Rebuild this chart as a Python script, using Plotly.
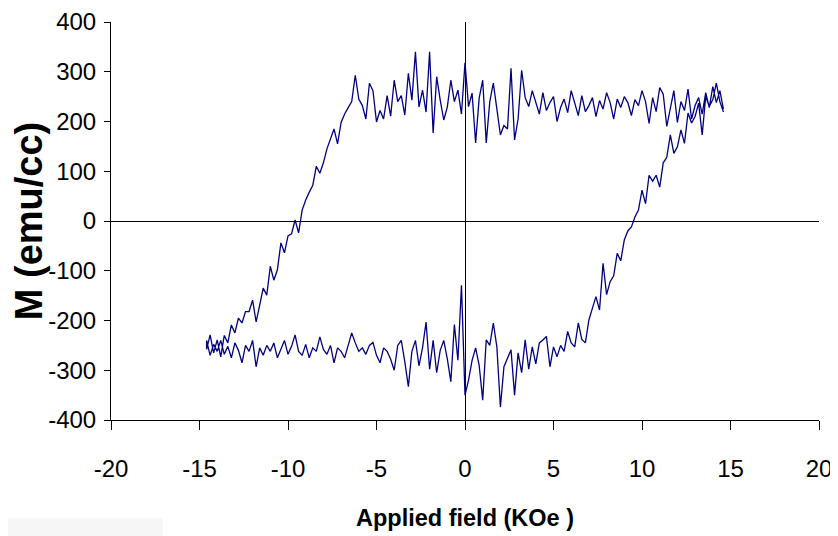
import plotly.graph_objects as go

# Descending-field branch (upper branch), KOe
field_down = [14.6, 14.4, 14.2, 14.0, 13.8, 13.6, 13.4, 13.2, 13.0, 12.8,
              12.6, 12.4, 12.2, 12.0, 11.8, 11.6, 11.4, 11.2, 11.0, 10.8,
              10.6, 10.4, 10.2, 10.0, 9.8, 9.6, 9.4, 9.2, 9.0, 8.8,
              8.6, 8.4, 8.2, 8.0, 7.8, 7.6, 7.4, 7.2, 7.0, 6.8,
              6.6, 6.4, 6.2, 6.0, 5.8, 5.6, 5.4, 5.2, 5.0, 4.8,
              4.6, 4.4, 4.2, 4.0, 3.8, 3.6, 3.4, 3.2, 3.0, 2.8,
              2.6, 2.4, 2.2, 2.0, 1.8, 1.6, 1.4, 1.2, 1.0, 0.8,
              0.6, 0.4, 0.2, 0.0, -0.2, -0.4, -0.6, -0.8, -1.0, -1.2,
              -1.4, -1.6, -1.8, -2.0, -2.2, -2.4, -2.6, -2.8, -3.0, -3.2,
              -3.4, -3.6, -3.8, -4.0, -4.2, -4.4, -4.6, -4.8, -5.0, -5.2,
              -5.4, -5.6, -5.8, -6.0, -6.2, -6.4, -6.6, -6.8, -7.0, -7.2,
              -7.4, -7.6, -7.8, -8.0, -8.2, -8.4, -8.6, -8.8, -9.0, -9.2,
              -9.4, -9.6, -9.8, -10.0, -10.2, -10.4, -10.6, -10.8, -11.0, -11.2,
              -11.4, -11.6, -11.8, -12.0, -12.2, -12.4, -12.6, -12.8, -13.0, -13.2,
              -13.4, -13.6, -13.8, -14.0, -14.2, -14.4, -14.6]
m_down = [225, 262, 238, 270, 228, 258, 215, 248, 232, 205,
          265, 222, 240, 198, 262, 228, 190, 255, 268, 220,
          248, 196, 240, 262, 232, 244, 212, 238, 250, 228,
          245, 205, 238, 258, 225, 242, 210, 248, 232, 220,
          252, 212, 240, 262, 218, 245, 228, 200, 250, 238,
          222, 258, 215, 240, 262, 230, 248, 303, 205, 163,
          307, 185, 192, 173, 225, 277, 240, 157, 283, 247,
          157, 257, 230, 318, 215, 263, 240, 283, 229, 203,
          243, 290, 177, 340, 219, 263, 229, 340, 243, 297,
          213, 252, 240, 283, 211, 252, 205, 222, 199, 262,
          277, 205, 232, 245, 293, 240, 228, 215, 198, 155,
          185, 167, 145, 117, 96, 110, 72, 58, 42, 22,
          -24, 2, -26, -30, -64, -44, -98, -119, -91, -149,
          -135, -169, -203, -159, -182, -182, -205, -195, -225, -209,
          -245, -230, -273, -239, -265, -229, -258]

# Ascending-field branch (lower branch), KOe
field_up = [-14.6, -14.4, -14.2, -14.0, -13.8, -13.6, -13.4, -13.2, -13.0, -12.8,
            -12.6, -12.4, -12.2, -12.0, -11.8, -11.6, -11.4, -11.2, -11.0, -10.8,
            -10.6, -10.4, -10.2, -10.0, -9.8, -9.6, -9.4, -9.2, -9.0, -8.8,
            -8.6, -8.4, -8.2, -8.0, -7.8, -7.6, -7.4, -7.2, -7.0, -6.8,
            -6.6, -6.4, -6.2, -6.0, -5.8, -5.6, -5.4, -5.2, -5.0, -4.8,
            -4.6, -4.4, -4.2, -4.0, -3.8, -3.6, -3.4, -3.2, -3.0, -2.8,
            -2.6, -2.4, -2.2, -2.0, -1.8, -1.6, -1.4, -1.2, -1.0, -0.8,
            -0.6, -0.4, -0.2, 0.0, 0.2, 0.4, 0.6, 0.8, 1.0, 1.2,
            1.4, 1.6, 1.8, 2.0, 2.2, 2.4, 2.6, 2.8, 3.0, 3.2,
            3.4, 3.6, 3.8, 4.0, 4.2, 4.4, 4.6, 4.8, 5.0, 5.2,
            5.4, 5.6, 5.8, 6.0, 6.2, 6.4, 6.6, 6.8, 7.0, 7.2,
            7.4, 7.6, 7.8, 8.0, 8.2, 8.4, 8.6, 8.8, 9.0, 9.2,
            9.4, 9.6, 9.8, 10.0, 10.2, 10.4, 10.6, 10.8, 11.0, 11.2,
            11.4, 11.6, 11.8, 12.0, 12.2, 12.4, 12.6, 12.8, 13.0, 13.2,
            13.4, 13.6, 13.8, 14.0, 14.2, 14.4, 14.6]
m_up = [-240, -270, -248, -262, -240, -268, -252, -275, -245, -260,
        -285, -250, -262, -240, -293, -255, -270, -250, -262, -245,
        -275, -258, -240, -268, -252, -229, -262, -270, -248, -275,
        -255, -262, -233, -258, -268, -250, -285, -255, -262, -275,
        -250, -225, -245, -262, -255, -268, -250, -244, -270, -285,
        -255, -262, -278, -300, -250, -240, -283, -333, -262, -240,
        -291, -255, -203, -298, -240, -305, -260, -240, -277, -323,
        -208, -280, -129, -350, -320, -280, -255, -290, -360, -239,
        -250, -205, -253, -374, -293, -275, -259, -350, -265, -305,
        -239, -298, -253, -287, -245, -239, -232, -293, -253, -273,
        -250, -262, -222, -245, -253, -205, -238, -245, -199, -175,
        -152, -179, -85, -148, -122, -110, -65, -80, -38, -20,
        -12, 8, 22, 62, 35, 92, 80, 92, 68, 117,
        128, 173, 136, 149, 183, 156, 217, 197, 210, 237,
        173, 250, 230, 244, 277, 240, 219]

x_ticks = [-20, -15, -10, -5, 0, 5, 10, 15, 20]
x_ticklabels = ["-20", "-15", "-10", "-5", "0", "5", "10", "15", "20"]
y_ticks = [-400, -300, -200, -100, 0, 100, 200, 300, 400]
y_ticklabels = ["-400", "-300", "-200", "-100", "0", "100", "200", "300", "400"]

x_title = "Applied field (KOe )"
y_title = "M (emu/cc)"

fig = go.Figure()
fig.add_trace(go.Scatter(
    x=field_down + field_up,
    y=m_down + m_up,
    mode="lines",
    line=dict(color="#000080", width=1.3),
    showlegend=False,
    hoverinfo="skip",
))

base_font = "Liberation Sans, Arial, sans-serif"

# The page body adds an 8px offset, so the figure is 8px smaller and margins compensate
fig.update_layout(
    width=830, height=528,
    margin=dict(l=103, r=19, t=14, b=116, autoexpand=False),
    paper_bgcolor="white", plot_bgcolor="white",
    font=dict(family=base_font, color="black"),
    showlegend=False,
    xaxis=dict(
        range=[-20, 20], tickmode="array", tickvals=x_ticks, ticktext=x_ticklabels,
        showgrid=False, zeroline=True, zerolinecolor="black", zerolinewidth=1.3,
        showline=True, linecolor="black", linewidth=1,
        ticks="outside", ticklen=9, tickwidth=1, tickcolor="black",
        tickfont=dict(family=base_font, size=24, color="black"),
        ticklabelstandoff=18,
        automargin=False,
        title=dict(text=x_title, standoff=28,
                   font=dict(family=base_font, size=23.5, color="black", weight="bold")),
    ),
    yaxis=dict(
        range=[-400, 400], tickmode="array", tickvals=y_ticks, ticktext=y_ticklabels,
        showgrid=False, zeroline=True, zerolinecolor="black", zerolinewidth=1.3,
        showline=True, linecolor="black", linewidth=1,
        ticks="outside", ticklen=6, tickwidth=1, tickcolor="black",
        tickfont=dict(family=base_font, size=24, color="black"),
        ticklabelstandoff=3,
        automargin=False,
        title=dict(text=y_title, standoff=2,
                   font=dict(family=base_font, size=38, color="black", weight="bold")),
    ),
    shapes=[dict(type="rect", xref="paper", yref="paper",
                 x0=-0.146, x1=0.073, y0=-0.292, y1=-0.246,
                 fillcolor="#f6f6f6", line=dict(width=0), layer="below")],
)

fig.write_html("out.html")
